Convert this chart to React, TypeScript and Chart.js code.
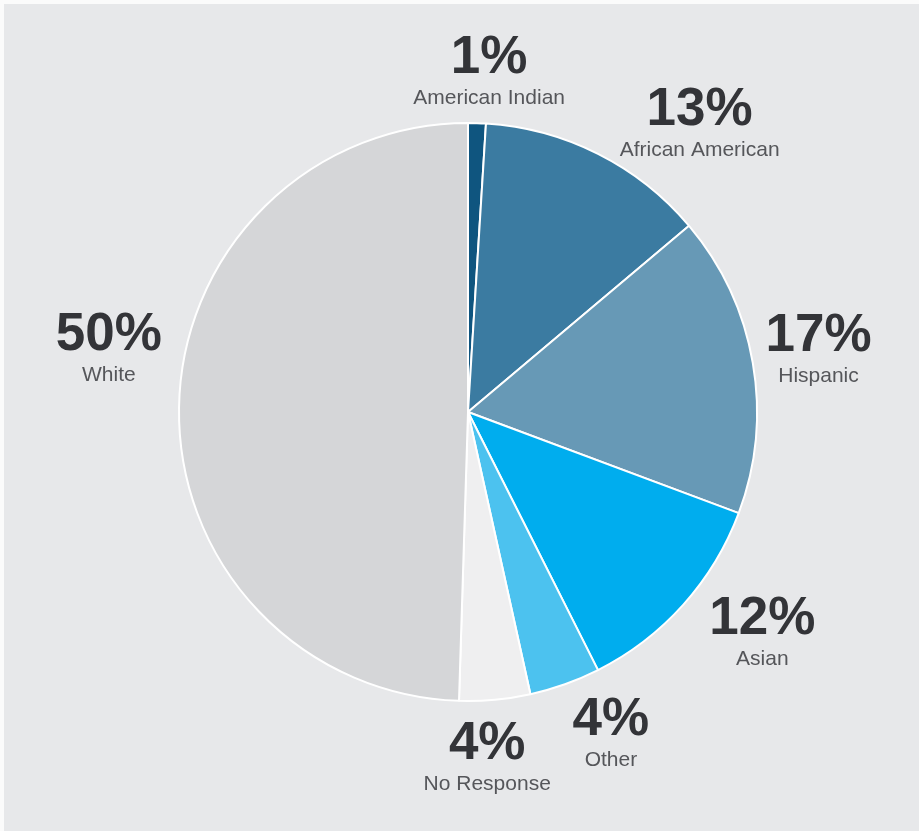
import React, { useEffect, useRef } from "react";
import { Chart, registerables } from "chart.js";

Chart.register(...registerables);

const categories = ["American Indian", "African American", "Hispanic", "Asian", "Other", "No Response", "White"];
const percentages = [1, 13, 17, 12, 4, 4, 50];
const sliceColors = ["#0f557f", "#3b7ba1", "#6799b6", "#00adee", "#4cc2ef", "#efeff0", "#d5d6d8"];
// label layout: angular shift (deg) from slice mid-angle, and radius factor
const labelAngleShift = [1.8, 12.4, 0.2, -4.6, -4.1, 2.2, 8.6];
const labelRadiusFactor = [1.17, 1.27, 1.23, 1.28, 1.23, 1.21, 1.26];

const labelPlugin = {
  id: "sliceLabels",
  afterDatasetsDraw(chart: any) {
    const ctx = chart.ctx;
    const meta = chart.getDatasetMeta(0);
    meta.data.forEach((arc: any, i: number) => {
      const p = arc.getProps(["x", "y", "startAngle", "endAngle", "outerRadius"], true);
      const mid = (p.startAngle + p.endAngle) / 2 + (labelAngleShift[i] * Math.PI) / 180;
      const r = p.outerRadius * labelRadiusFactor[i];
      const x = p.x + Math.cos(mid) * r;
      const y = p.y + Math.sin(mid) * r - 2;
      ctx.save();
      ctx.textAlign = "center";
      ctx.textBaseline = "alphabetic";
      ctx.fillStyle = "#333438";
      ctx.font = "bold 53px 'Liberation Sans', Arial, sans-serif";
      ctx.fillText(percentages[i] + "%", x, y);
      ctx.fillStyle = "#55565a";
      ctx.font = "21px 'Liberation Sans', Arial, sans-serif";
      ctx.fillText(categories[i], x, y + 31);
      ctx.restore();
    });
  },
};

export default function App() {
  const ref = useRef<HTMLCanvasElement | null>(null);
  useEffect(() => {
    if (!ref.current) return;
    const chart = new Chart(ref.current, {
      type: "pie",
      data: {
        labels: categories,
        datasets: [
          {
            data: percentages,
            backgroundColor: sliceColors,
            borderColor: "#ffffff",
            borderWidth: 2,
          },
        ],
      },
      options: {
        animation: false,
        responsive: false,
        maintainAspectRatio: false,
        layout: { padding: { left: 178, right: 161, top: 122, bottom: 129 } },
        plugins: { legend: { display: false }, tooltip: { enabled: false } },
      },
      plugins: [labelPlugin],
    });
    return () => chart.destroy();
  }, []);
  return (
    <div
      style={{
        position: "fixed",
        left: 0,
        top: 0,
        width: 919,
        height: 831,
        background: "#e7e8ea",
        borderLeft: "4px solid #fbfbfb",
        borderTop: "4px solid #fbfbfb",
        boxSizing: "border-box",
      }}
    >
      <canvas ref={ref} width={919} height={831} style={{ position: "absolute", left: -4, top: -4 }} />
    </div>
  );
}
